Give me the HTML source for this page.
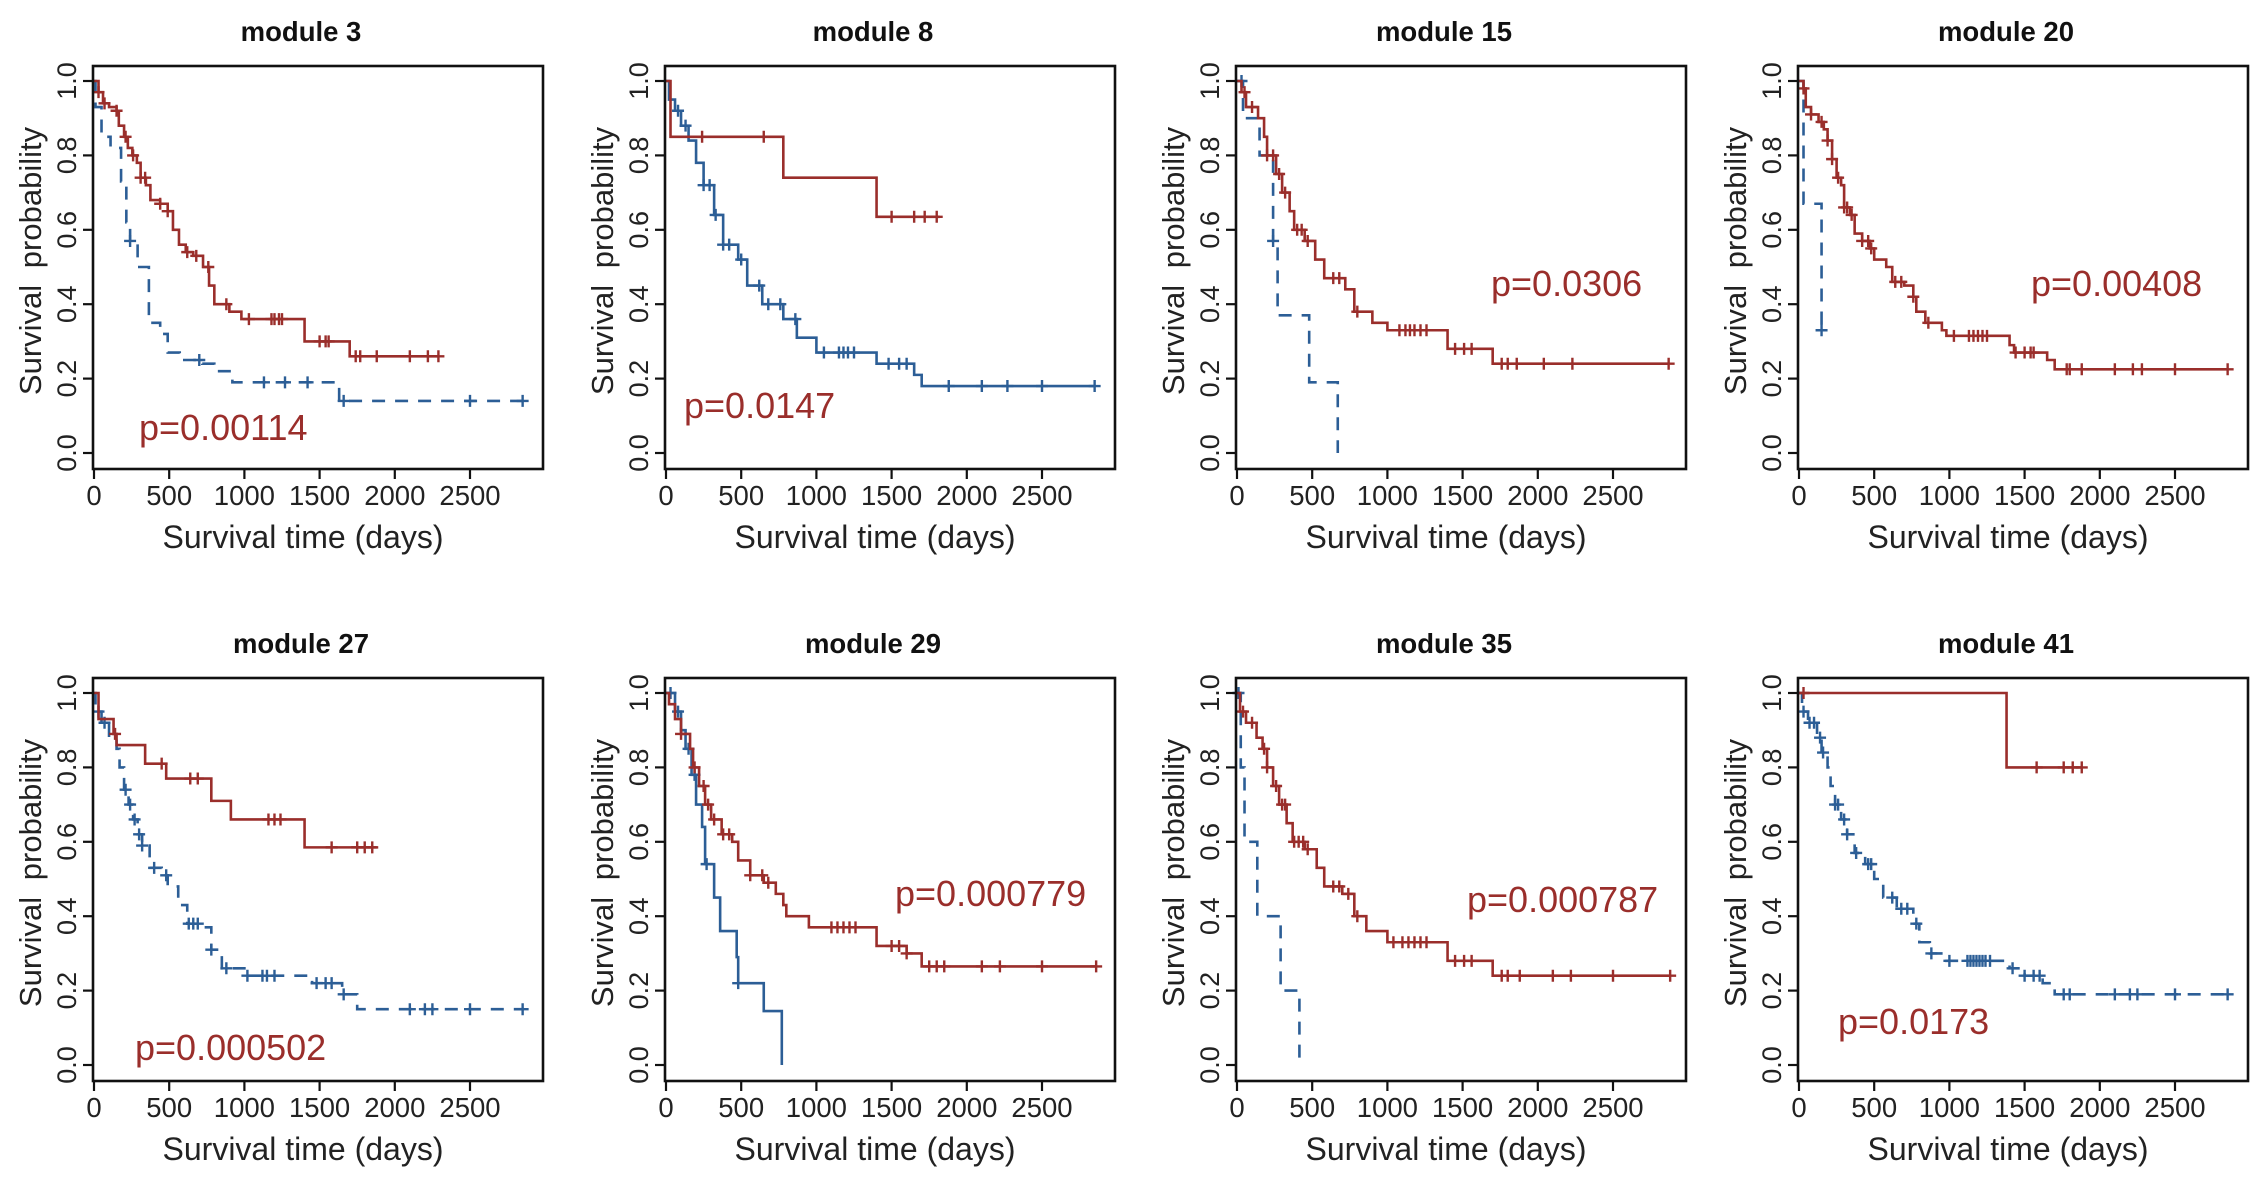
<!DOCTYPE html>
<html><head><meta charset="utf-8">
<style>
html,body{margin:0;padding:0;background:#fff;}
svg{display:block;}
text{font-family:"Liberation Sans",Arial,sans-serif;}
</style></head>
<body>
<svg id="fig" width="2268" height="1188" viewBox="0 0 2268 1188" xmlns="http://www.w3.org/2000/svg"></svg>
<script>
// ---- data (days / survival probability) ----
const xTicks = [0,500,1000,1500,2000,2500];
const yTicks = [0,0.2,0.4,0.6,0.8,1.0];
const yTickLabels = ["0.0","0.2","0.4","0.6","0.8","1.0"];
const titles = ["module 3","module 8","module 15","module 20","module 27","module 29","module 35","module 41"];
const pValues = ["p=0.00114","p=0.0147","p=0.0306","p=0.00408","p=0.000502","p=0.000779","p=0.000787","p=0.0173"];

const m3RedT=[30,60,100,150,165,200,225,255,285,310,345,375,440,490,525,565,610,660,725,765,800,900,980,1400,1700,2290];
const m3RedS=[0.97,0.94,0.93,0.92,0.88,0.85,0.82,0.80,0.78,0.74,0.72,0.68,0.67,0.65,0.60,0.56,0.54,0.53,0.50,0.45,0.40,0.38,0.36,0.30,0.26,0.26];
const m3RedC=[30,70,150,210,260,310,340,440,490,620,680,760,880,1030,1180,1200,1230,1250,1500,1540,1560,1740,1770,1880,2100,2220,2290];
const m3BlueT=[10,50,110,180,215,240,290,365,440,490,570,720,800,920,1630,2850];
const m3BlueS=[0.93,0.85,0.82,0.73,0.62,0.57,0.50,0.35,0.32,0.27,0.25,0.24,0.22,0.19,0.14,0.14];
const m3BlueC=[240,700,1130,1270,1420,1660,2500,2850];

const m8RedT=[30,780,1400,1820];
const m8RedS=[0.85,0.74,0.635,0.635];
const m8RedC=[240,650,1500,1650,1720,1800];
const m8BlueT=[20,60,100,150,200,250,320,380,480,540,640,780,870,1000,1400,1650,1700,2850];
const m8BlueS=[0.95,0.92,0.88,0.84,0.78,0.72,0.64,0.56,0.52,0.45,0.40,0.36,0.31,0.27,0.24,0.21,0.18,0.18];
const m8BlueC=[80,130,250,290,330,380,420,500,620,680,760,860,1050,1150,1180,1210,1250,1480,1550,1600,1880,2100,2270,2500,2850];

const m15RedT=[30,60,140,180,200,260,300,350,380,450,520,580,720,780,900,1000,1400,1700,2870];
const m15RedS=[0.97,0.93,0.90,0.85,0.80,0.75,0.70,0.65,0.60,0.57,0.52,0.47,0.44,0.38,0.35,0.33,0.28,0.24,0.24];
const m15RedC=[50,100,200,240,280,320,400,430,470,640,680,800,1080,1120,1150,1180,1220,1260,1450,1510,1560,1760,1800,1860,2040,2230,2870];
const m15BlueT=[40,150,240,270,480,670];
const m15BlueS=[0.90,0.80,0.57,0.37,0.19,0.0];
const m15BlueC=[30,240];

const m20RedT=[30,45,80,130,165,190,220,250,280,300,340,370,420,470,500,580,620,700,760,780,840,950,980,1400,1430,1650,1700,2850];
const m20RedS=[0.98,0.93,0.91,0.89,0.87,0.84,0.79,0.74,0.72,0.66,0.64,0.59,0.57,0.55,0.52,0.50,0.46,0.45,0.42,0.38,0.35,0.33,0.315,0.29,0.27,0.25,0.225,0.225];
const m20RedC=[30,80,150,190,220,260,300,320,350,420,460,480,640,680,760,860,1030,1130,1160,1190,1220,1250,1440,1500,1540,1560,1780,1800,1880,2100,2220,2280,2500,2850];
const m20BlueT=[30,150];
const m20BlueS=[0.67,0.33];
const m20BlueC=[150];

const m27RedT=[30,130,150,340,480,780,910,1400,1880];
const m27RedS=[0.93,0.89,0.86,0.81,0.77,0.71,0.66,0.585,0.585];
const m27RedC=[140,450,640,690,1160,1200,1240,1580,1750,1800,1850];
const m27BlueT=[10,50,100,150,170,200,230,260,290,320,370,450,490,560,620,700,780,850,1000,1450,1650,1750,2860];
const m27BlueS=[0.95,0.92,0.88,0.85,0.80,0.74,0.70,0.66,0.62,0.59,0.53,0.51,0.48,0.43,0.38,0.37,0.31,0.26,0.24,0.22,0.19,0.15,0.15];
const m27BlueC=[30,70,210,240,270,300,320,400,480,630,660,690,780,880,1020,1120,1150,1200,1480,1540,1580,1660,2100,2200,2250,2500,2850];

const m29RedT=[20,60,100,160,180,220,260,300,370,440,480,560,650,730,780,800,950,1400,1600,1700,2860];
const m29RedS=[0.97,0.93,0.89,0.85,0.80,0.75,0.70,0.66,0.62,0.60,0.55,0.51,0.49,0.46,0.43,0.40,0.37,0.32,0.30,0.265,0.265];
const m29RedC=[100,190,250,280,320,380,420,560,640,680,1100,1140,1180,1220,1260,1500,1550,1600,1750,1800,1850,2100,2220,2500,2860];
const m29BlueT=[60,100,130,170,200,240,260,320,360,470,480,650,770];
const m29BlueS=[0.95,0.90,0.85,0.78,0.70,0.64,0.54,0.45,0.36,0.29,0.22,0.145,0.0];
const m29BlueC=[30,80,150,190,270,480];

const m35RedT=[20,60,130,170,200,240,280,330,370,450,530,580,700,780,860,1000,1400,1700,2880];
const m35RedS=[0.95,0.92,0.88,0.85,0.80,0.75,0.70,0.65,0.60,0.58,0.53,0.48,0.46,0.40,0.36,0.33,0.28,0.24,0.24];
const m35RedC=[40,100,180,200,260,300,320,380,410,440,470,640,680,740,800,1040,1100,1140,1180,1220,1260,1450,1510,1560,1760,1800,1880,2100,2220,2500,2880];
const m35BlueT=[25,50,135,290,415];
const m35BlueS=[0.80,0.60,0.40,0.20,0.0];
const m35BlueC=[10];

const m41RedT=[1380,1880];
const m41RedS=[0.8,0.8];
const m41RedC=[30,1580,1760,1820,1880];
const m41BlueT=[20,60,120,150,190,210,240,280,320,370,440,500,560,650,760,800,870,980,1400,1500,1620,1700,2850];
const m41BlueS=[0.95,0.92,0.88,0.84,0.80,0.75,0.70,0.66,0.62,0.57,0.54,0.50,0.45,0.42,0.38,0.33,0.30,0.28,0.26,0.24,0.22,0.19,0.19];
const m41BlueC=[30,70,100,140,160,240,260,300,320,380,460,480,620,680,720,780,880,1000,1120,1140,1160,1180,1200,1220,1240,1270,1420,1500,1560,1600,1760,1800,2100,2200,2250,2500,2850];

const panels = [
 {red:[m3RedT,m3RedS,m3RedC], blue:[m3BlueT,m3BlueS,m3BlueC], dashed:true, px:139, py:440},
 {red:[m8RedT,m8RedS,m8RedC], blue:[m8BlueT,m8BlueS,m8BlueC], dashed:false, px:684-665+93, py:418},
 {red:[m15RedT,m15RedS,m15RedC], blue:[m15BlueT,m15BlueS,m15BlueC], dashed:true, px:1491-1236+93, py:296},
 {red:[m20RedT,m20RedS,m20RedC], blue:[m20BlueT,m20BlueS,m20BlueC], dashed:true, px:2031-1798+93, py:296},
 {red:[m27RedT,m27RedS,m27RedC], blue:[m27BlueT,m27BlueS,m27BlueC], dashed:true, px:135, py:448},
 {red:[m29RedT,m29RedS,m29RedC], blue:[m29BlueT,m29BlueS,m29BlueC], dashed:false, px:895-665+93, py:294},
 {red:[m35RedT,m35RedS,m35RedC], blue:[m35BlueT,m35BlueS,m35BlueC], dashed:true, px:1467-1236+93, py:300},
 {red:[m41RedT,m41RedS,m41RedC], blue:[m41BlueT,m41BlueS,m41BlueC], dashed:true, px:1838-1798+93, py:422}
];

const colL=[93,665,1236,1798];
const rowOffset=[0,612];
const NS="http://www.w3.org/2000/svg";
const svg=document.getElementById('fig');
const RED="#9a2e2b", BLUE="#2c5e96";
function mk(tag,attrs,parent){const e=document.createElementNS(NS,tag);for(const k in attrs)e.setAttribute(k,attrs[k]);(parent||svg).appendChild(e);return e;}

panels.forEach((p,i)=>{
  const L=colL[i%4], dy=rowOffset[Math.floor(i/4)], top=66+dy;
  const g=mk('g',{});
  
  
  const xs=t=>L+1+t*0.1504;
  const ys=s=>top+15+(1-s)*372;
  const ti=mk('text',{x:L+208,y:top-25,'text-anchor':'middle','font-size':27.5,'font-weight':'bold',fill:'#111'},g);
  ti.textContent=titles[i];
  
  
  [['blue',p.blue,BLUE],['red',p.red,RED]].forEach(([nm,arr,col])=>{
    const [T,S,C]=arr;
    let d=`M${xs(0)},${ys(1)}`;
    for(let k=0;k<T.length;k++){d+=` H${xs(T[k])} V${ys(S[k])}`;}
    const path=mk('path',{d:d,fill:'none',stroke:col,'stroke-width':2.6,'stroke-dasharray':(nm==='blue'&&p.dashed)?'13 10':'none'},g);
    
    
    const sAt=t=>{let s=1;for(let k=0;k<T.length;k++){if(T[k]<=t)s=S[k];}return s;};
    C.forEach(t=>{
      const m=mk('path',{d:`M${xs(t)},${ys(sAt(t))-6} v12 M${xs(t)-6},${ys(sAt(t))} h12`,stroke:col,'stroke-width':2.4,fill:'none'},g);
      
      
    });
  });
  const box=mk('rect',{x:L,y:top,width:450,height:403,fill:'none',stroke:'#111','stroke-width':2.6},g);
  
  
  yTicks.forEach((v,k)=>{
    const tk=mk('line',{x1:L-10,x2:L,y1:ys(v),y2:ys(v),stroke:'#111','stroke-width':2.2},g);
    
    
    const lb=mk('text',{x:0,y:0,transform:`translate(${L-26},${ys(v)}) rotate(-90)`,'text-anchor':'middle','dominant-baseline':'central','font-size':27,fill:'#222'},g);
    lb.textContent=yTickLabels[k];
    
    
  });
  xTicks.forEach(v=>{
    const tk=mk('line',{x1:xs(v),x2:xs(v),y1:top+403,y2:top+413,stroke:'#111','stroke-width':2.2},g);
    
    
    const lb=mk('text',{x:xs(v),y:top+439,'text-anchor':'middle','font-size':27.5,fill:'#222'},g);
    lb.textContent=String(v);
    
    
  });
  const xt=mk('text',{x:L+210,y:top+482,'text-anchor':'middle','font-size':32,fill:'#222'},g);
  xt.textContent='Survival time (days)';
  
  
  const yt=mk('text',{x:0,y:0,transform:`translate(${L-52},${top+195}) rotate(-90)`,'text-anchor':'middle','font-size':31,fill:'#222','word-spacing':'8'},g);
  yt.textContent='Survival probability';
  
  
  const pv=mk('text',{x:p.px-93+L,y:p.py+dy,'font-size':36,fill:RED},g);
  pv.textContent=pValues[i];
  
  
});
</script>
</body></html>
